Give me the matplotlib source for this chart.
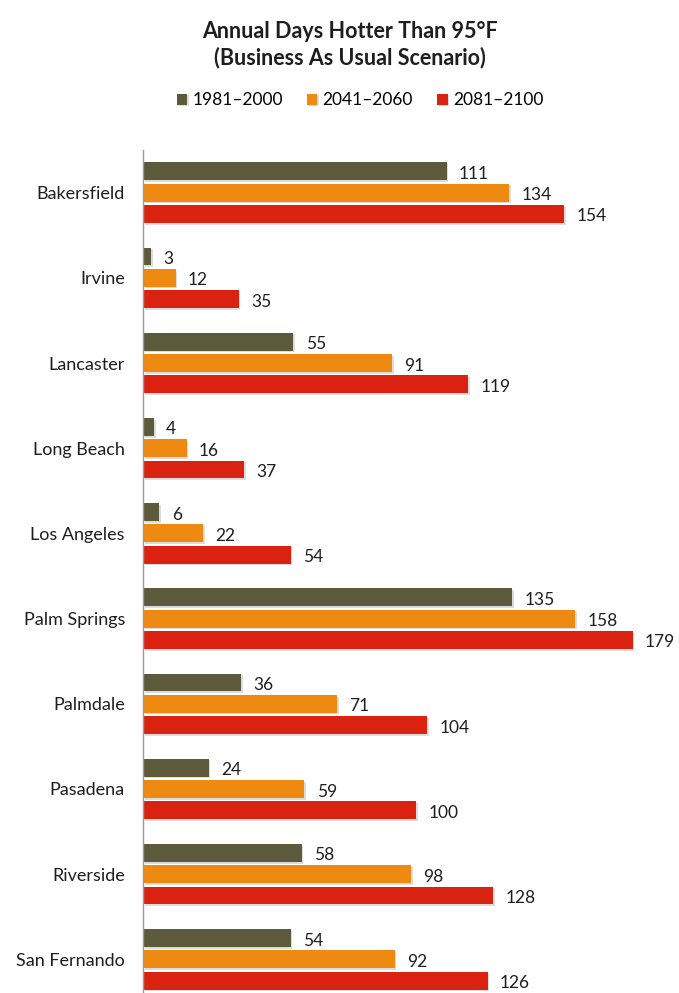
import numpy as np
import matplotlib.pyplot as plt
import matplotlib.patheffects as pe

cities = ['Bakersfield', 'Irvine', 'Lancaster', 'Long Beach', 'Los Angeles',
          'Palm Springs', 'Palmdale', 'Pasadena', 'Riverside', 'San Fernando']
periods = ['1981\u20132000', '2041\u20132060', '2081\u20132100']
days_1981 = [111, 3, 55, 4, 6, 135, 36, 24, 58, 54]
days_2041 = [134, 12, 91, 16, 22, 158, 71, 59, 98, 92]
days_2081 = [154, 35, 119, 37, 54, 179, 104, 100, 128, 126]
colors = ['#5c5a3b', '#ee8a12', '#da2210']

plt.rcParams['font.family'] = ['Lato', 'DejaVu Sans']

fig = plt.figure(figsize=(6.79, 9.93), dpi=100)
ax = fig.add_axes([143 / 679, 1 - 1002 / 993, (679 - 143) / 679, 852 / 993])

y = np.arange(len(cities))
series = [days_1981, days_2041, days_2081]
shadow = [pe.SimplePatchShadow(offset=(1.2, -1.2), shadow_rgbFace='#aaaaaa', alpha=0.4), pe.Normal()]
for k, (vals, lab, c) in enumerate(zip(series, periods, colors)):
    pos = y + (k - 1) * 0.25
    ax.barh(pos, vals, height=0.21, color=c, label=lab, path_effects=shadow)
    for p, v in zip(pos, vals):
        ax.text(v + 4.5, p + 0.03, str(v), va='center', ha='left', fontsize=12.5, color='#1e1e1e')

ax.set_xlim(0, 196)
ax.set_ylim(len(cities) - 0.5, -0.5)
ax.set_yticks(y)
ax.set_yticklabels(cities, fontsize=13, color='#1e1e1e')
ax.tick_params(axis='y', length=0, pad=13)
ax.set_xticks([])
for s in ['top', 'right', 'bottom']:
    ax.spines[s].set_visible(False)
ax.spines['left'].set_color('#999999')
ax.spines['left'].set_linewidth(1)

fig.text(0.515, 0.955, 'Annual Days Hotter Than 95\u00b0F\n(Business As Usual Scenario)',
         ha='center', va='center', fontsize=15.5, fontweight='bold', color='#1e1e1e',
         linespacing=1.25)
fig.legend(loc='center', bbox_to_anchor=(0.53, 0.899), ncol=3, frameon=False,
           fontsize=12.5, handlelength=0.6, handleheight=0.6, columnspacing=1.4,
           handletextpad=0.3)

fig.savefig('out.png', dpi=100)
